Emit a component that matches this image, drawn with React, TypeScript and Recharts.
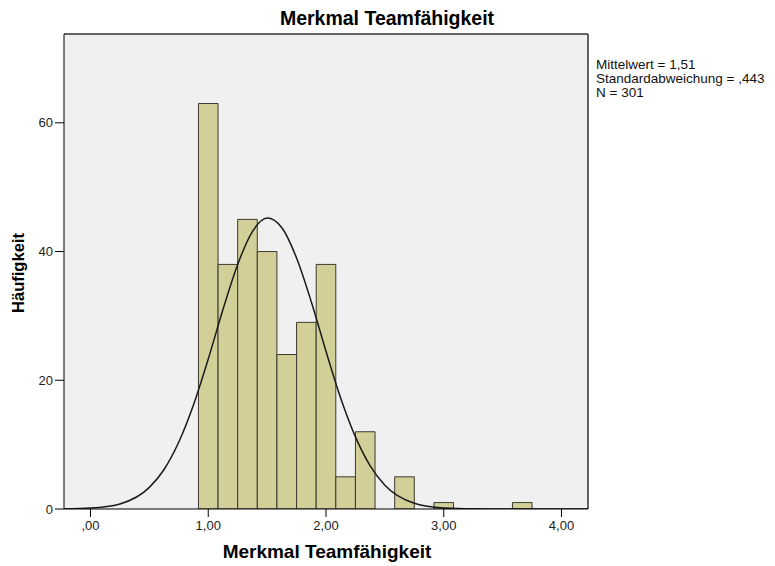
import React from "react";
import { ComposedChart, Bar, Line, XAxis, YAxis, CartesianGrid, ReferenceLine } from "recharts";

// histogram bins (class width 1/6), counts
const binCenters = [1.0, 1.1667, 1.3333, 1.5, 1.6667, 1.8333, 2.0, 2.1667, 2.3333, 2.5, 2.6667, 2.8333, 3.0, 3.1667, 3.3333, 3.5, 3.6667];
const binCounts = [63, 38, 45, 40, 24, 29, 38, 5, 12, 0, 5, 0, 1, 0, 0, 0, 1];

// normal curve, heights
const curveX = [-0.225, 0, 0.25, 0.5, 0.625, 0.75, 0.875, 1.0, 1.125, 1.25, 1.375, 1.5, 1.625, 1.75, 1.875, 2.0, 2.125, 2.25, 2.375, 2.5, 2.75, 3.0, 3.25, 3.5, 4.225];
const curveY = [0.02, 0.14, 0.79, 3.36, 6.14, 10.4, 16.2, 23.3, 31.0, 38.0, 43.1, 45.2, 43.7, 39.0, 32.2, 24.5, 17.2, 11.2, 6.7, 3.7, 0.9, 0.16, 0.02, 0, 0];

const xTicks = [0, 1, 2, 3, 4];
const yTicks = [0, 20, 40, 60];
const statLines = ["Mittelwert = 1,51", "Standardabweichung = ,443", "N = 301"];

const bins = binCenters.map((x, i) => ({ x, count: binCounts[i] }));
const curve = curveX.map((x, i) => ({ x, y: curveY[i] }));

const FONT = "'Liberation Sans', Arial, sans-serif";
const W = 775;
const H = 566;
const X_DOMAIN: [number, number] = [-0.225, 4.225];
const Y_MAX = 73.8;

const fmtX = (v: number) => (v === 0 ? ",00" : v.toFixed(2).replace(".", ","));

export default function App() {
  return (
    <div style={{ position: "absolute", left: 0, top: 0, width: W, height: H, background: "#fff", fontFamily: FONT }}>
      <ComposedChart width={W} height={H} data={bins} margin={{ top: 34, right: 187, bottom: 27, left: 20 }}>
        <CartesianGrid fill="#f0f0f0" horizontal={false} vertical={false} />
        <XAxis
          dataKey="x"
          type="number"
          domain={X_DOMAIN}
          ticks={xTicks}
          tickFormatter={fmtX}
          allowDataOverflow
          height={30}
          tickSize={8}
          tickMargin={4}
          stroke="#000"
          tick={{ fill: "#222", fontSize: 13, fontFamily: FONT }}
        />
        <XAxis xAxisId="bars" dataKey="x" type="number" domain={X_DOMAIN} allowDataOverflow hide />
        <YAxis
          type="number"
          domain={[0, Y_MAX]}
          ticks={yTicks}
          allowDataOverflow
          width={44}
          tickSize={9}
          tickMargin={2}
          stroke="#000"
          tick={{ fill: "#222", fontSize: 13, fontFamily: FONT }}
        />
        <Bar xAxisId="bars" dataKey="count" barSize={19.6} fill="#d3cf99" stroke="#3a3a30" strokeWidth={1} isAnimationActive={false} />
        <Line data={curve} dataKey="y" type="monotone" stroke="#1a1a1a" strokeWidth={1.5} dot={false} activeDot={false} isAnimationActive={false} />
        <ReferenceLine y={Y_MAX} stroke="#333" strokeWidth={1.5} />
        <ReferenceLine x={X_DOMAIN[1]} stroke="#333" strokeWidth={1.5} />
      </ComposedChart>
      <svg width={W} height={H} style={{ position: "absolute", left: 0, top: 0, pointerEvents: "none" }}>
        <text x={387} y={25} textAnchor="middle" fontFamily={FONT} fontWeight="bold" fontSize={19.5} fill="#000">
          Merkmal Teamfähigkeit
        </text>
        <text x={327} y={558} textAnchor="middle" fontFamily={FONT} fontWeight="bold" fontSize={19} fill="#000">
          Merkmal Teamfähigkeit
        </text>
        <text x={24} y={273} textAnchor="middle" transform="rotate(-90 24 273)" fontFamily={FONT} fontWeight="bold" fontSize={16.5} fill="#000">
          Häufigkeit
        </text>
        {statLines.map((s, i) => (
          <text key={s} x={596} y={69 + i * 14} fontFamily={FONT} fontSize={13.5} fill="#111">
            {s}
          </text>
        ))}
      </svg>
    </div>
  );
}
